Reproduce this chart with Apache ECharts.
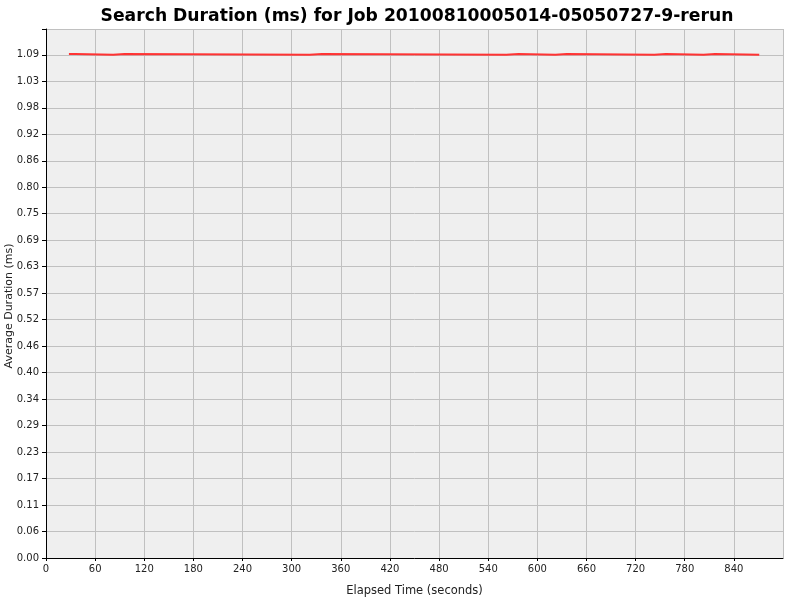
<!DOCTYPE html>
<html>
<head>
<meta charset="utf-8">
<script src="https://cdn.jsdelivr.net/npm/echarts@6/dist/echarts.min.js"></script>
<style>html,body{margin:0;padding:0;background:#fff;}#c{width:800px;height:600px;}</style>
</head>
<body>
<div id="c"></div>
<script>
// Elapsed time (s) at each change of the step line, and average duration (ms)
const elapsedTimes = [28, 36, 82, 96, 322, 337, 562, 577, 622, 636, 743, 757, 803, 817, 871];
const avgDuration  = [1.092, 1.090, 1.092, 1.090, 1.092, 1.090, 1.092, 1.090, 1.092, 1.090, 1.092, 1.090, 1.092, 1.090, 1.090];
const yTickStep = 1.09 / 19;
const xTickStep = 60;

const data = elapsedTimes.map((t, i) => [t, avgDuration[i]]);
const chart = echarts.init(document.getElementById('c'));
const font = 'DejaVu Sans';
chart.setOption({
  animation: false,
  backgroundColor: '#ffffff',
  title: {
    text: 'Search Duration (ms) for Job 20100810005014-05050727-9-rerun',
    left: 412, top: 3, textAlign: 'center',
    textStyle: { fontFamily: font, fontWeight: 'bold', fontSize: 17.2, color: '#000' }
  },
  graphic: [{
    type: 'text', x: 9, y: 306, rotation: Math.PI / 2,
    style: { text: 'Average Duration (ms)', fontFamily: font, fontSize: 11, fill: '#222',
      align: 'center', verticalAlign: 'middle' }
  }],
  grid: {
    left: 46, right: 17, top: 29, bottom: 42,
    containLabel: false, outerBoundsMode: 'none',
    show: true, backgroundColor: '#efefef', borderWidth: 0
  },
  xAxis: {
    type: 'value', min: 0, max: 900, interval: xTickStep,
    name: 'Elapsed Time (seconds)', nameLocation: 'middle', nameGap: 27,
    nameTextStyle: { fontFamily: font, fontSize: 11.5, color: '#222' },
    axisLine: { show: true, onZero: false, lineStyle: { color: '#000', width: 1 } },
    axisTick: { show: true, length: 3, lineStyle: { color: '#000' } },
    axisLabel: { fontFamily: font, fontSize: 10, color: '#222', margin: 6, showMaxLabel: false },
    splitLine: { show: true, lineStyle: { color: '#c0c0c0', width: 1 } }
  },
  yAxis: {
    type: 'value', min: 0, max: 1.146, interval: yTickStep,
    axisLine: { show: true, onZero: false, lineStyle: { color: '#000', width: 1 } },
    axisTick: { show: true, length: 4, lineStyle: { color: '#000' } },
    axisLabel: { fontFamily: font, fontSize: 10, color: '#222', margin: 7,
      formatter: v => (v > 1.1 ? '' : v.toFixed(2)) },
    splitLine: { show: true, lineStyle: { color: '#c0c0c0', width: 1 } }
  },
  series: [{
    type: 'line', step: 'end', data: data, showSymbol: false,
    lineStyle: { color: '#ff3333', width: 2, cap: 'butt' }, itemStyle: { color: '#ff3333' }
  }]
});
</script>
</body>
</html>
